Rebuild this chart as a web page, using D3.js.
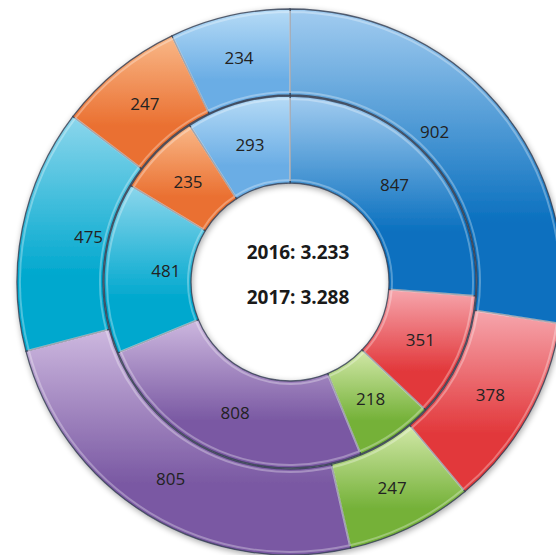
<!DOCTYPE html>
<html>
<head>
<meta charset="utf-8">
<script src="https://cdn.jsdelivr.net/npm/d3@7"></script>
<style>
  html, body { margin: 0; padding: 0; background: #fff; overflow: hidden; }
  #draw { width: 556px; height: 555px; }
</style>
</head>
<body>
<div id="draw"></div>
<script>
// segments go clockwise from 12 o'clock
let categories = ['A', 'B', 'C', 'D', 'E', 'F', 'G'];
let values2016 = [847, 351, 218, 808, 481, 235, 293];
let values2017 = [902, 378, 247, 805, 475, 247, 234];
let centerLabels = ['2016: 3.233', '2017: 3.288'];

// light top -> dark bottom for each category
let colorsLight = ['#a2ccf0', '#f6a6ad', '#d2e8a8', '#cdb8df', '#8cd6ec', '#f9b888', '#b6dbf6'];
let colorsDark = ['#0a70bf', '#e2383b', '#74b138', '#7a59a3', '#00a8ce', '#ea7031', '#6aade5'];

let W = 556, H = 555;
let cx = 290, cy = 282;

let initDraw = function() {
  let d3elt = d3.select('#draw');
  d3elt.html('');

  let svg = d3elt.append('svg').attr('width', W).attr('height', H);
  let defs = svg.append('defs');

  // soft drop shadow under the rings
  let f = defs.append('filter').attr('id', 'shadow')
    .attr('x', '-10%').attr('y', '-10%').attr('width', '120%').attr('height', '120%');
  f.append('feGaussianBlur').attr('in', 'SourceAlpha').attr('stdDeviation', 3).attr('result', 'blur');
  f.append('feOffset').attr('in', 'blur').attr('dx', 1).attr('dy', 2).attr('result', 'off');
  f.append('feComponentTransfer').attr('in', 'off').attr('result', 'soft')
    .append('feFuncA').attr('type', 'linear').attr('slope', 0.35);
  let fm = f.append('feMerge');
  fm.append('feMergeNode').attr('in', 'soft');
  fm.append('feMergeNode').attr('in', 'SourceGraphic');

  categories.forEach(function(c, i) {
    let g = defs.append('linearGradient').attr('id', 'grad' + i)
      .attr('x1', 0).attr('y1', 0).attr('x2', 0).attr('y2', 1);
    g.append('stop').attr('offset', '0%').attr('stop-color', colorsLight[i]);
    g.append('stop').attr('offset', '68%').attr('stop-color', colorsDark[i]);
    g.append('stop').attr('offset', '100%').attr('stop-color', colorsDark[i]);
  });

  let pie = d3.pie().sort(null).value(d => d);

  let rings = [
    { data: values2016, r0: 99, r1: 186 },
    { data: values2017, r0: 187, r1: 273 }
  ];

  // the spreadsheet nudged a few labels off the centroid (ring, index -> dx)
  let labelShift = { '0-4': 18, '1-0': -30, '1-4': 24 };

  let chart = svg.append('g').attr('transform', 'translate(' + cx + ',' + cy + ')')
    .attr('filter', 'url(#shadow)');
  let labels = svg.append('g').attr('transform', 'translate(' + cx + ',' + cy + ')');

  rings.forEach(function(ring, ri) {
    let arc = d3.arc().innerRadius(ring.r0).outerRadius(ring.r1);
    // bevel highlight just inside the edges
    let arcHi = d3.arc().innerRadius(ring.r0 + 3).outerRadius(ring.r1 - 3);
    let arcs = pie(ring.data);

    chart.append('g').selectAll('path.seg')
      .data(arcs).enter().append('path')
      .attr('class', 'seg')
      .attr('d', arc)
      .attr('fill', (d, i) => 'url(#grad' + i + ')')
      .attr('stroke', 'rgba(50,60,80,0.8)')
      .attr('stroke-width', 1.3);

    chart.append('g').selectAll('path.hi')
      .data(arcs).enter().append('path')
      .attr('class', 'hi')
      .attr('d', arcHi)
      .attr('fill', 'none')
      .attr('stroke', 'rgba(255,255,255,0.3)')
      .attr('stroke-width', 2);

    labels.append('g').selectAll('text')
      .data(arcs).enter().append('text')
      .attr('transform', function(d, i) {
        let p = arc.centroid(d);
        let dx = labelShift[ri + '-' + i] || 0;
        return 'translate(' + (p[0] + dx) + ',' + p[1] + ')';
      })
      .attr('text-anchor', 'middle')
      .attr('dy', '0.35em')
      .style('font-family', '"Open Sans", sans-serif')
      .style('font-size', '17px')
      .attr('fill', '#222')
      .text(d => d.value);
  });

  // totals in the hole
  labels.selectAll('text.total')
    .data(centerLabels).enter().append('text')
    .attr('class', 'total')
    .attr('x', 8)
    .attr('y', (d, i) => -30 + i * 45)
    .attr('text-anchor', 'middle')
    .attr('dy', '0.35em')
    .style('font-family', '"Open Sans", sans-serif')
    .style('font-weight', 'bold')
    .style('font-size', '19px')
    .attr('fill', '#1a1a1a')
    .text(d => d);
}

initDraw();
</script>
</body>
</html>
